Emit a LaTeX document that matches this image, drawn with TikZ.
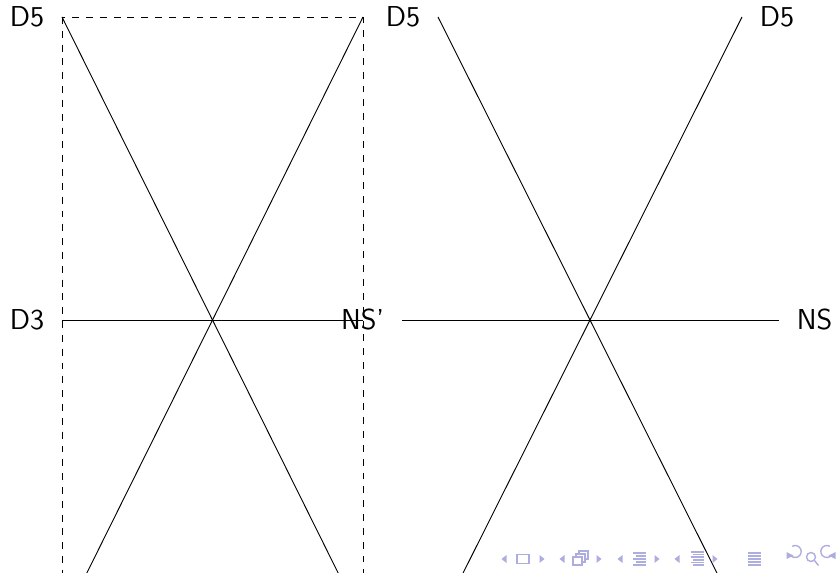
\documentclass[tikz,border=0pt]{standalone}
\usepackage{tikz}
\definecolor{NavBlue}{RGB}{173,173,224}

\begin{document}
\begin{tikzpicture}[x=0.15256mm, y=-0.15256mm,
    lbl/.style={font=\sffamily\fontsize{12.5}{15}\selectfont, inner xsep=7.5pt},
    nav/.style={NavBlue, line width=0.6pt}]
  \useasboundingbox (0,0) rectangle (839,573);
  % corners and ends
  \coordinate (lTL) at (62,17);   \coordinate (lTR) at (363,17);
  \coordinate (lBL) at (62,623);  \coordinate (lBR) at (363,623);
  \coordinate (lW) at (62,320);   \coordinate (lE) at (363,320);
  \coordinate (rTL) at (438,17);  \coordinate (rTR) at (742,17);
  \coordinate (rBL) at (438,623); \coordinate (rBR) at (742,623);
  \coordinate (rW) at (402,320);  \coordinate (rE) at (779,320);
  \begin{scope}
    \clip (0,0) rectangle (839,573);
    % left panel
    \draw[dashed] (lTL) rectangle (lBR);
    \draw (lTL) -- (lBR);
    \draw (lTR) -- (lBL);
    \draw (lW) -- (lE);
    % right panel
    \draw (rTL) -- (rBR);
    \draw (rTR) -- (rBL);
    \draw (rW) -- (rE);
  \end{scope}
  \node[lbl, left] (d5a) at (lTL) {D5};
  \node[lbl, left] (d3) at (lW) {D3};
  \node[lbl, left] (d5b) at (rTL) {D5};
  \node[lbl, right] (d5c) at (rTR) {D5};
  \node[lbl, left] (nsp) at (rW) {NS'};
  \node[lbl, right] (ns) at (rE) {NS};
  % navigation symbols
  \foreach \x in {504,562,620,677}
    \fill[NavBlue] (\x+2.5,555) -- (\x-2.5,559) -- (\x+2.5,563) -- cycle;
  \foreach \x in {542,599,657,715}
    \fill[NavBlue] (\x-2.5,555) -- (\x+2.5,559) -- (\x-2.5,563) -- cycle;
  \draw[nav] (517,554.5) rectangle (529,563.5);
  \draw[nav] (573,557) rectangle (582,565);
  \draw[nav] (576,557) -- (576,554) -- (585,554) -- (585,562) -- (582,562);
  \draw[nav] (579,554) -- (579,551) -- (588,551) -- (588,559) -- (585,559);
  \foreach \y/\a/\b in {553/633/646,556/636/646,559/633/646,562/636/646,565/633/646}
    \draw[nav] (\a,\y) -- (\b,\y);
  \foreach \y/\a/\b in {552/691/704,554.5/693/704,557/691/704,560/693/704,562.5/691/704,565/693/704}
    \draw[nav] (\a,\y) -- (\b,\y);
  \foreach \y in {553,556,559,562,565}
    \draw[nav] (748,\y) -- (761,\y);
  \draw[nav] (790,554.5) arc[start angle=150, end angle=-120, radius=6];
  \fill[NavBlue] (786.5,552) -- (793.5,555.5) -- (786.5,559) -- cycle;
  \draw[nav] (811,557) circle[radius=4.5];
  \draw[nav] (814.5,560.5) -- (818.5,565.5);
  \draw[nav] (832,554.5) arc[start angle=30, end angle=300, radius=6];
  \fill[NavBlue] (835.5,552) -- (828.5,555.5) -- (835.5,559) -- cycle;
\end{tikzpicture}
\end{document}
